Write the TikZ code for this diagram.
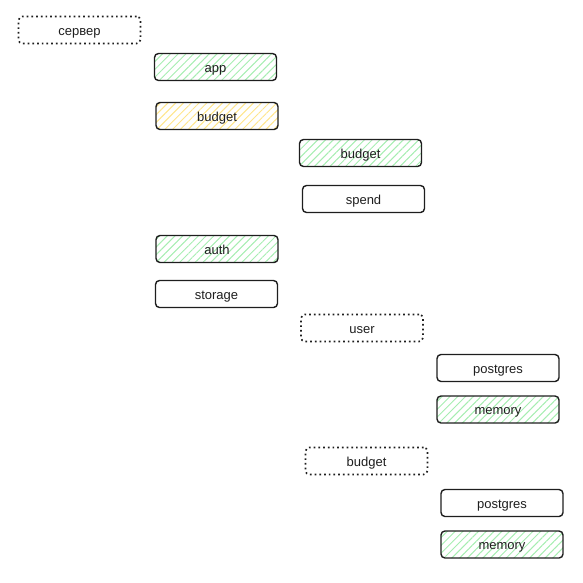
\documentclass[tikz,border=0pt]{standalone}
\usepackage{fontspec}
\setmainfont{Liberation Sans}
\usetikzlibrary{patterns.meta}
\definecolor{ink}{HTML}{1E1E1E}
\definecolor{hgreen}{HTML}{A6EDB1}
\definecolor{hyellow}{HTML}{FFE58A}
\tikzset{
  box/.style={draw=ink, line width=1.4pt, rounded corners=4pt,
    minimum width=122pt, minimum height=27pt, inner sep=0pt,
    text height=13pt, text depth=3pt,
    font=\fontsize{13}{15}\selectfont, text=ink},
  dotbox/.style={box, line width=1.7pt, dash pattern=on 1.7pt off 3pt},
  greenbox/.style={box, pattern={Lines[angle=45,distance=5.5pt,line width=1pt]}, pattern color=hgreen},
  yellowbox/.style={box, pattern={Lines[angle=45,distance=5.5pt,line width=1pt]}, pattern color=hyellow},
}
\begin{document}
\begin{tikzpicture}[x=1pt,y=-1pt]
\useasboundingbox (0,0) rectangle (583,582);
\node[dotbox]    (srv)  at (79.5,30)   {сервер};
\node[greenbox]  (app)  at (215.5,67)  {app};
\node[yellowbox] (bud1) at (217,116)   {budget};
\node[greenbox]  (bud2) at (360.5,153) {budget};
\node[box]       (spend) at (363.5,199) {spend};
\node[greenbox]  (auth) at (217,249)   {auth};
\node[box]       (stor) at (216.5,294) {storage};
\node[dotbox]    (user) at (362,328)   {user};
\node[box]       (pg1)  at (498,368)   {postgres};
\node[greenbox]  (mem1) at (498,409.5) {memory};
\node[dotbox]    (bud3) at (366.5,461) {budget};
\node[box]       (pg2)  at (502,503)   {postgres};
\node[greenbox]  (mem2) at (502,544.5) {memory};
\end{tikzpicture}
\end{document}
